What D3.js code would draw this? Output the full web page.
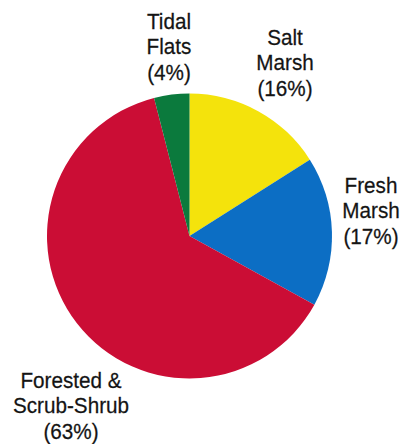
<!DOCTYPE html>
<html>
<head>
<meta charset="utf-8">
<script src="https://cdn.jsdelivr.net/npm/d3@7"></script>
<style>
  html, body { margin: 0; padding: 0; background: #fff; }
  svg { display: block; }
  text { font-family: "Liberation Sans", Arial, Helvetica, sans-serif; fill: #141414; stroke: #141414; stroke-width: 0.25; }
</style>
</head>
<body>
<svg id="chart" width="402" height="444"></svg>
<script>
const categories = ["Salt Marsh", "Fresh Marsh", "Forested & Scrub-Shrub", "Tidal Flats"];
const values = [16, 17, 63, 4];
const colors = ["#f4e30c", "#0c6ec4", "#cb0d35", "#0b7a3d"];
const labelLines = [
  ["Salt", "Marsh", "(16%)"],
  ["Fresh", "Marsh", "(17%)"],
  ["Forested &", "Scrub-Shrub", "(63%)"],
  ["Tidal", "Flats", "(4%)"]
];

const svg = d3.select("#chart");
const cx = 189.5, cy = 236, r = 142.5;

const pie = d3.pie().sort(null).value(d => d.value);
const data = categories.map((c, i) => ({ name: c, value: values[i], color: colors[i], lines: labelLines[i] }));
const arcs = pie(data);
const arc = d3.arc().innerRadius(0).outerRadius(r);

const g = svg.append("g").attr("transform", `translate(${cx},${cy})`);
g.selectAll("path").data(arcs).enter().append("path")
  .attr("d", arc)
  .attr("fill", d => d.data.color);

// label anchor positions (center x, first baseline y)
const labelPos = {
  "Salt Marsh": [285, 45],
  "Fresh Marsh": [371, 193],
  "Forested & Scrub-Shrub": [71, 388],
  "Tidal Flats": [169, 29]
};
const lineH = 25.3;
arcs.forEach(a => {
  const [x, y] = labelPos[a.data.name];
  const lg = svg.append("g").attr("transform", `translate(${x},0) scale(0.92,1)`);
  const t = lg.append("text").attr("text-anchor", "middle").attr("font-size", 22.5);
  a.data.lines.forEach((ln, i) => {
    t.append("tspan").attr("x", 0).attr("y", y + i * lineH).text(ln);
  });
});
</script>
</body>
</html>
